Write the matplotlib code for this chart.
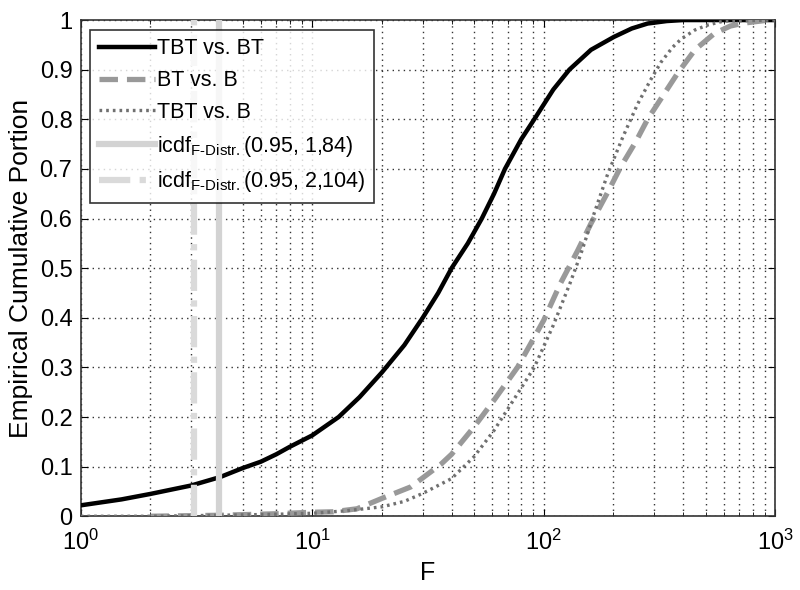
import numpy as np
import matplotlib.pyplot as plt

plt.rcParams['font.family'] = ['Liberation Sans', 'DejaVu Sans']
plt.rcParams['mathtext.fontset'] = 'custom'
plt.rcParams['mathtext.rm'] = 'Liberation Sans'
plt.rcParams['mathtext.it'] = 'Liberation Sans'

# TBT vs. BT
f_tbt_bt = [1, 1.5, 2, 3, 4, 5, 6, 7, 8, 10, 13, 16, 20, 25, 30, 35, 40, 47, 54, 61,
            68, 80, 91, 110, 129, 160, 201, 240, 281, 340, 400, 1000]
y_tbt_bt = [0.022, 0.034, 0.045, 0.062, 0.079, 0.097, 0.11, 0.125, 0.14, 0.163, 0.2, 0.24,
            0.29, 0.345, 0.40, 0.45, 0.50, 0.55, 0.60, 0.65, 0.70, 0.76, 0.80, 0.86, 0.90,
            0.94, 0.966, 0.983, 0.993, 0.998, 1.0, 1.0]

# BT vs. B
f_bt_b = [2, 4, 7, 10, 12.3, 15.6, 20, 26.6, 36, 40, 50, 61, 77, 100, 118, 140, 160, 190,
          215, 250, 281, 330, 379, 450, 546, 640, 736, 900, 1000]
y_bt_b = [0, 0.002, 0.005, 0.008, 0.009, 0.015, 0.036, 0.059, 0.105, 0.125, 0.18, 0.234,
          0.30, 0.395, 0.469, 0.535, 0.59, 0.655, 0.704, 0.755, 0.80, 0.85, 0.893, 0.94,
          0.973, 0.988, 0.994, 0.999, 1.0]

# TBT vs. B
f_tbt_b = [1, 2, 4, 7, 10, 14, 20, 25, 30, 40, 50, 61, 74, 91, 110, 130, 145, 165, 189,
           220, 254, 290, 321, 360, 393, 450, 511, 600, 1000]
y_tbt_b = [0, 0.0, 0.002, 0.004, 0.006, 0.011, 0.019, 0.03, 0.046, 0.076, 0.12, 0.173,
           0.234, 0.30, 0.385, 0.47, 0.53, 0.61, 0.69, 0.765, 0.83, 0.88, 0.915, 0.945,
           0.962, 0.98, 0.99, 0.998, 1.0]

# critical values
icdf_1_84 = 3.955
icdf_2_104 = 3.083

fig = plt.figure(figsize=(8, 5.9), dpi=100)
ax = fig.add_axes([0.101, 0.125, 0.868, 0.841])

ax.plot(f_tbt_bt, y_tbt_bt, color='black', lw=3.2, label='TBT vs. BT', zorder=3)
ax.plot(f_bt_b, y_bt_b, color='#999999', lw=3.8, dashes=(3.5, 1.7), label='BT vs. B', zorder=3)
ax.plot(f_tbt_b, y_tbt_b, color='#707070', lw=2.4, linestyle=(0, (0.8, 1.2)),
        label='TBT vs. B', zorder=3)
ax.axvline(icdf_1_84, color='#d3d3d3', lw=4.5, zorder=4,
           label=r'icdf$_{\mathregular{F\text{-}Distr.}}$(0.95, 1,84)')
ax.axvline(icdf_2_104, color='#dadada', lw=4.5, linestyle=(0, (5, 1.5, 1, 1.5)), zorder=4,
           label=r'icdf$_{\mathregular{F\text{-}Distr.}}$(0.95, 2,104)')

ax.set_xscale('log')
ax.set_xlim(1, 1000)
ax.set_ylim(0, 1)
ax.set_yticks(np.arange(0, 1.01, 0.1))
ax.set_yticklabels(['0', '0.1', '0.2', '0.3', '0.4', '0.5', '0.6', '0.7', '0.8', '0.9', '1'])

ax.grid(True, which='major', linestyle=(0, (1, 3)), color='#333333', lw=1.0)
ax.grid(True, which='minor', axis='x', linestyle=(0, (1, 3)), color='#333333', lw=1.0)
ax.tick_params(which='both', direction='in', top=True, right=True, labelsize=17)
ax.tick_params(which='major', length=5)
ax.tick_params(axis='x', which='major', pad=10)
ax.tick_params(axis='y', which='major', pad=6)
ax.tick_params(which='minor', length=3)
for s in ax.spines.values():
    s.set_color('#333333')
    s.set_linewidth(1.2)

ax.set_xlabel('F', fontsize=18, labelpad=4)
ax.set_ylabel('Empirical Cumulative Portion', fontsize=19, labelpad=5)

leg = ax.legend(loc='upper left', fontsize=15.5, frameon=True, fancybox=False,
                handlelength=2.6, handletextpad=0.1, labelspacing=0.5,
                borderpad=0.4, borderaxespad=0.45)
leg.get_frame().set_edgecolor('black')
leg.get_frame().set_linewidth(1.2)

plt.savefig('out.png', dpi=100)
